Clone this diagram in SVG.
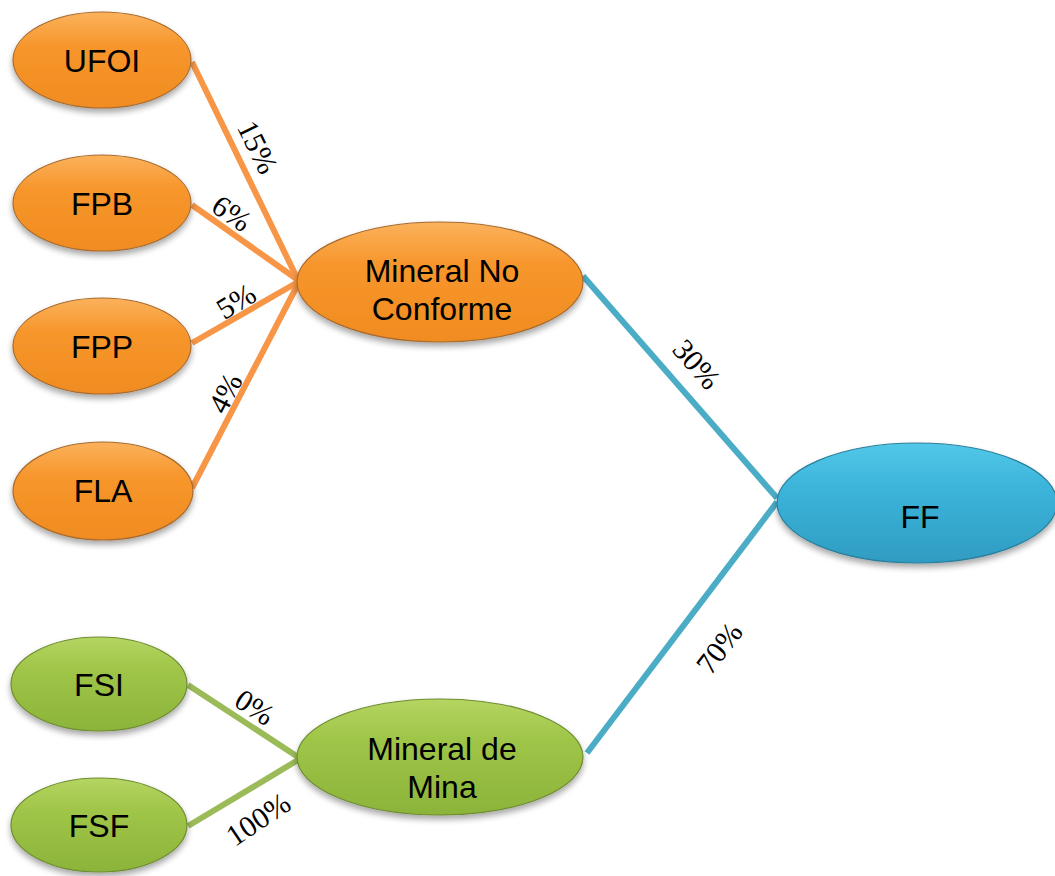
<svg xmlns="http://www.w3.org/2000/svg" width="1055" height="876" viewBox="0 0 1055 876">
  <defs>
    <linearGradient id="gOrange" x1="0" y1="0" x2="0" y2="1">
      <stop offset="0" stop-color="#FBB25C"/>
      <stop offset="0.35" stop-color="#F7962C"/>
      <stop offset="1" stop-color="#F08C20"/>
    </linearGradient>
    <linearGradient id="gBlue" x1="0" y1="0" x2="0" y2="1">
      <stop offset="0" stop-color="#52C8E8"/>
      <stop offset="0.35" stop-color="#3DB5DB"/>
      <stop offset="1" stop-color="#2F9CC2"/>
    </linearGradient>
    <linearGradient id="gGreen" x1="0" y1="0" x2="0" y2="1">
      <stop offset="0" stop-color="#B5D562"/>
      <stop offset="0.35" stop-color="#9FC548"/>
      <stop offset="1" stop-color="#8CB43A"/>
    </linearGradient>
    <filter id="shadow" x="-20%" y="-20%" width="140%" height="150%">
      <feGaussianBlur in="SourceAlpha" stdDeviation="3"/>
      <feOffset dx="0" dy="4" result="b"/>
      <feComponentTransfer><feFuncA type="linear" slope="0.35"/></feComponentTransfer>
      <feMerge><feMergeNode/><feMergeNode in="SourceGraphic"/></feMerge>
    </filter>
  </defs>
  <style>
    .orange { fill: url(#gOrange); stroke: #A86A2E; stroke-width: 1.2; filter: url(#shadow); }
    .blue { fill: url(#gBlue); stroke: #2A7F9C; stroke-width: 1.2; filter: url(#shadow); }
    .green { fill: url(#gGreen); stroke: #6E8C30; stroke-width: 1.2; filter: url(#shadow); }
    .name { font-family: "Liberation Sans", Arial, sans-serif; font-size: 32px; fill: #000; text-anchor: middle; }
    .pct { font-family: "Liberation Serif", "Times New Roman", serif; font-size: 30px; fill: #000; text-anchor: middle; dominant-baseline: central; }
    .lo { stroke: #F79646; stroke-width: 6; fill: none; }
    .lb { stroke: #4BACC6; stroke-width: 6; fill: none; }
    .lg { stroke: #9BBB59; stroke-width: 6; fill: none; }
  </style>

  <!-- connectors with their share labels -->
  <g id="connectors">
    <line class="lo" x1="192" y1="62" x2="298" y2="280"/>
    <line class="lo" x1="192" y1="205" x2="298" y2="280"/>
    <line class="lo" x1="192" y1="343" x2="298" y2="282"/>
    <line class="lo" x1="192" y1="488" x2="298" y2="284"/>
    <line class="lb" x1="583" y1="276" x2="777" y2="498"/>
    <line class="lb" x1="777" y1="502" x2="587" y2="753"/>
    <line class="lg" x1="188" y1="685" x2="298" y2="757"/>
    <line class="lg" x1="188" y1="826" x2="298" y2="760"/>
    <text class="pct" transform="translate(258,147) rotate(64)">15%</text>
    <text class="pct" transform="translate(232,213) rotate(35)">6%</text>
    <text class="pct" transform="translate(236,301) rotate(-31)">5%</text>
    <text class="pct" transform="translate(225,393) rotate(-63)">4%</text>
    <text class="pct" transform="translate(697,364) rotate(49)">30%</text>
    <text class="pct" transform="translate(719,648) rotate(-53)">70%</text>
    <text class="pct" transform="translate(255,707) rotate(33)">0%</text>
    <text class="pct" transform="translate(258,819) rotate(-34)">100%</text>
  </g>

  <g id="ufoi">
    <ellipse class="orange" cx="102" cy="60" rx="89" ry="48"/>
    <text class="name" x="102" y="72">UFOI</text>
  </g>
  <g id="fpb">
    <ellipse class="orange" cx="102" cy="203" rx="89" ry="48"/>
    <text class="name" x="102" y="215">FPB</text>
  </g>
  <g id="fpp">
    <ellipse class="orange" cx="102" cy="346" rx="89" ry="48"/>
    <text class="name" x="102" y="358">FPP</text>
  </g>
  <g id="fla">
    <ellipse class="orange" cx="103" cy="491" rx="90" ry="49"/>
    <text class="name" x="103" y="502">FLA</text>
  </g>
  <g id="mineral-no-conforme">
    <ellipse class="orange" cx="440" cy="282" rx="143" ry="60"/>
    <text class="name" x="442" y="282">Mineral No</text>
    <text class="name" x="442" y="320">Conforme</text>
  </g>
  <g id="ff">
    <ellipse class="blue" cx="917" cy="503" rx="140" ry="60"/>
    <text class="name" x="920" y="528">FF</text>
  </g>
  <g id="fsi">
    <ellipse class="green" cx="99" cy="684" rx="88" ry="47"/>
    <text class="name" x="99" y="696">FSI</text>
  </g>
  <g id="fsf">
    <ellipse class="green" cx="99" cy="825" rx="88" ry="47"/>
    <text class="name" x="99" y="837">FSF</text>
  </g>
  <g id="mineral-de-mina">
    <ellipse class="green" cx="440" cy="757" rx="143" ry="58"/>
    <text class="name" x="442" y="760">Mineral de</text>
    <text class="name" x="442" y="798">Mina</text>
  </g>
</svg>
